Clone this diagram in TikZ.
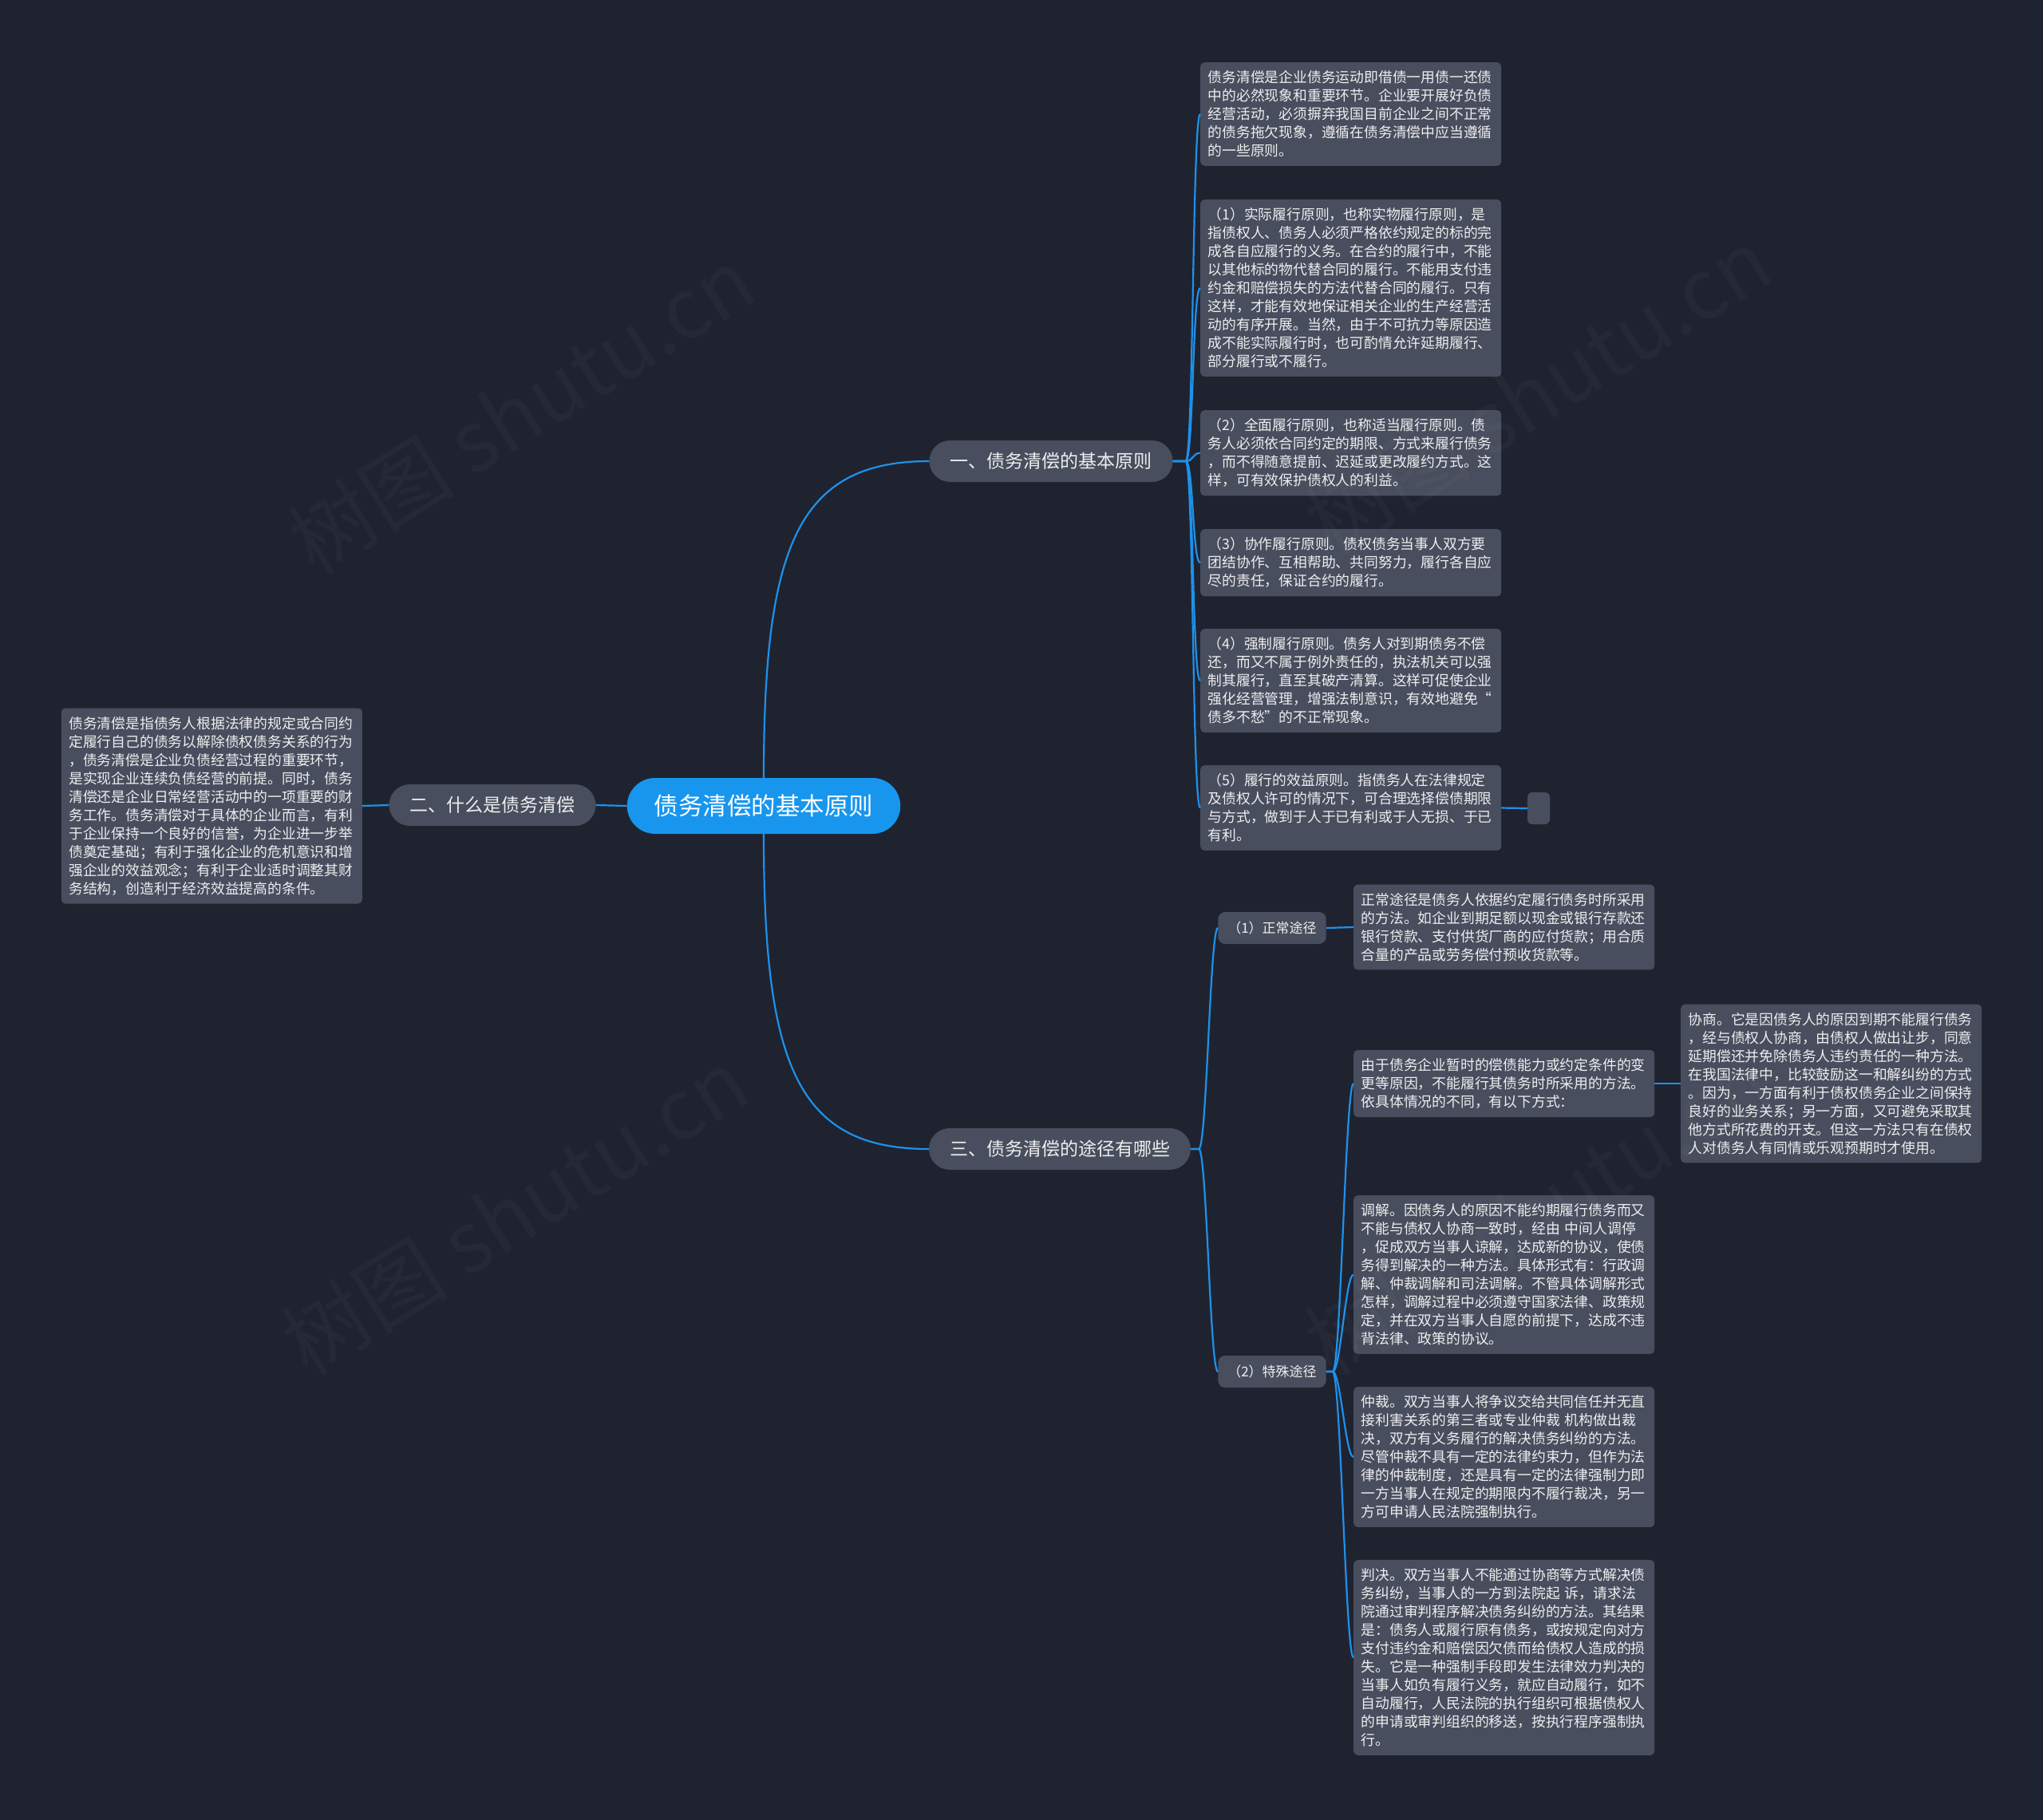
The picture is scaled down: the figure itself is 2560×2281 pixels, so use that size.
\documentclass[tikz,border=0pt]{standalone}
\usepackage{fontspec}
\setmainfont{Noto Sans CJK SC}
\usepackage{tikz}
\definecolor{bgdark}{RGB}{31,35,48}
\definecolor{boxgray}{RGB}{72,78,93}
\definecolor{rootblue}{RGB}{24,150,238}
\definecolor{linkblue}{RGB}{30,145,235}
\definecolor{notewhite}{RGB}{238,238,240}

\begin{document}
\begin{tikzpicture}[x=1pt,y=-1pt,
  link/.style={draw=linkblue,line width=2.2pt},
  note/.style={fill=boxgray,rounded corners=5pt,text=notewhite,align=left,
    text width=358pt,inner xsep=9.5pt,inner ysep=10.5pt,
    font=\fontsize{17.8}{23}\selectfont},
  topic/.style={fill=boxgray,rounded corners=26pt,text=notewhite,
    minimum height=52pt,inner xsep=26pt,font=\fontsize{23}{28}\selectfont},
  subtopic/.style={fill=boxgray,rounded corners=9pt,text=notewhite,
    minimum height=40pt,inner xsep=12pt,font=\fontsize{17}{20}\selectfont},
  watermark/.style={text=white,opacity=0.028,rotate=32,
    font=\fontsize{105}{105}\selectfont}]
\useasboundingbox (0,0) rectangle (2560,2281);
\fill[bgdark] (0,0) rectangle (2560,2281);

% centre et branches
\node[fill=rootblue,text=white,rounded corners=35pt,minimum height=70pt,
  inner xsep=34pt,font=\fontsize{30.5}{34}\selectfont] (root) at (957,1010)
  {债务清偿的基本原则};
\node[topic] (basics) at (1317,578) {一、债务清偿的基本原则};
\node[topic] (whatis) at (617,1009) {二、什么是债务清偿};
\node[topic] (routes) at (1328,1440) {三、债务清偿的途径有哪些};

% 一、基本原则
\node[note,anchor=north west] (intro) at (1504,78)
  {债务清偿是企业债务运动即借债一用债一还债\\
   中的必然现象和重要环节。企业要开展好负债\\
   经营活动，必须摒弃我国目前企业之间不正常\\
   的债务拖欠现象，遵循在债务清偿中应当遵循\\
   的一些原则。};
\node[note,anchor=north west] (rule1) at (1504,250)
  {（1）实际履行原则，也称实物履行原则，是\\
   指债权人、债务人必须严格依约规定的标的完\\
   成各自应履行的义务。在合约的履行中，不能\\
   以其他标的物代替合同的履行。不能用支付违\\
   约金和赔偿损失的方法代替合同的履行。只有\\
   这样，才能有效地保证相关企业的生产经营活\\
   动的有序开展。当然，由于不可抗力等原因造\\
   成不能实际履行时，也可酌情允许延期履行、\\
   部分履行或不履行。};
\node[note,anchor=north west] (rule2) at (1504,514)
  {（2）全面履行原则，也称适当履行原则。债\\
   务人必须依合同约定的期限、方式来履行债务\\
   ，而不得随意提前、迟延或更改履约方式。这\\
   样，可有效保护债权人的利益。};
\node[note,anchor=north west] (rule3) at (1504,663)
  {（3）协作履行原则。债权债务当事人双方要\\
   团结协作、互相帮助、共同努力，履行各自应\\
   尽的责任，保证合约的履行。};
\node[note,anchor=north west] (rule4) at (1504,788)
  {（4）强制履行原则。债务人对到期债务不偿\\
   还，而又不属于例外责任的，执法机关可以强\\
   制其履行，直至其破产清算。这样可促使企业\\
   强化经营管理，增强法制意识，有效地避免“\\
   债多不愁”的不正常现象。};
\node[note,anchor=north west] (rule5) at (1504,959)
  {（5）履行的效益原则。指债务人在法律规定\\
   及债权人许可的情况下，可合理选择偿债期限\\
   与方式，做到于人于已有利或于人无损、于已\\
   有利。};
\node[fill=boxgray,rounded corners=6pt,minimum width=28pt,minimum height=40pt,
  inner sep=0pt] (rule5end) at (1928,1013) {};

% 二、什么是债务清偿
\node[note,anchor=east] (whatisnote) at (454,1010)
  {债务清偿是指债务人根据法律的规定或合同约\\
   定履行自己的债务以解除债权债务关系的行为\\
   ，债务清偿是企业负债经营过程的重要环节，\\
   是实现企业连续负债经营的前提。同时，债务\\
   清偿还是企业日常经营活动中的一项重要的财\\
   务工作。债务清偿对于具体的企业而言，有利\\
   于企业保持一个良好的信誉，为企业进一步举\\
   债奠定基础；有利于强化企业的危机意识和增\\
   强企业的效益观念；有利于企业适时调整其财\\
   务结构，创造利于经济效益提高的条件。};

% 三、途径
\node[subtopic] (normal) at (1594,1163) {（1）正常途径};
\node[subtopic] (special) at (1594,1719) {（2）特殊途径};
\node[note,anchor=west] (normalnote) at (1696,1162)
  {正常途径是债务人依据约定履行债务时所采用\\
   的方法。如企业到期足额以现金或银行存款还\\
   银行贷款、支付供货厂商的应付货款；用合质\\
   合量的产品或劳务偿付预收货款等。};
\node[note,anchor=west] (cause) at (1696,1358)
  {由于债务企业暂时的偿债能力或约定条件的变\\
   更等原因，不能履行其债务时所采用的方法。\\
   依具体情况的不同，有以下方式：};
\node[note,anchor=west] (consult) at (2106,1358)
  {协商。它是因债务人的原因到期不能履行债务\\
   ，经与债权人协商，由债权人做出让步，同意\\
   延期偿还并免除债务人违约责任的一种方法。\\
   在我国法律中，比较鼓励这一和解纠纷的方式\\
   。因为，一方面有利于债权债务企业之间保持\\
   良好的业务关系；另一方面，又可避免采取其\\
   他方式所花费的开支。但这一方法只有在债权\\
   人对债务人有同情或乐观预期时才使用。};
\node[note,anchor=north west] (mediate) at (1696,1498)
  {调解。因债务人的原因不能约期履行债务而又\\
   不能与债权人协商一致时，经由 中间人调停\\
   ，促成双方当事人谅解，达成新的协议，使债\\
   务得到解决的一种方法。具体形式有：行政调\\
   解、仲裁调解和司法调解。不管具体调解形式\\
   怎样，调解过程中必须遵守国家法律、政策规\\
   定，并在双方当事人自愿的前提下，达成不违\\
   背法律、政策的协议。};
\node[note,anchor=north west] (arbitrate) at (1696,1738)
  {仲裁。双方当事人将争议交给共同信任并无直\\
   接利害关系的第三者或专业仲裁 机构做出裁\\
   决，双方有义务履行的解决债务纠纷的方法。\\
   尽管仲裁不具有一定的法律约束力，但作为法\\
   律的仲裁制度，还是具有一定的法律强制力即\\
   一方当事人在规定的期限内不履行裁决，另一\\
   方可申请人民法院强制执行。};
\node[note,anchor=north west] (judge) at (1696,1955)
  {判决。双方当事人不能通过协商等方式解决债\\
   务纠纷，当事人的一方到法院起 诉，请求法\\
   院通过审判程序解决债务纠纷的方法。其结果\\
   是：债务人或履行原有债务，或按规定向对方\\
   支付违约金和赔偿因欠债而给债权人造成的损\\
   失。它是一种强制手段即发生法律效力判决的\\
   当事人如负有履行义务，就应自动履行，如不\\
   自动履行，人民法院的执行组织可根据债权人\\
   的申请或审判组织的移送，按执行程序强制执\\
   行。};

% 连线
\draw[link] (root.north) .. controls +(0,-290) and +(-165,0) .. (basics.west);
\draw[link] (root.south) .. controls +(0,290) and +(-165,0) .. (routes.west);
\draw[link] (root.west) -- (whatis.east);
\draw[link] (whatis.west) -- (whatisnote.east);
\foreach \c in {intro,rule1,rule2,rule3,rule4,rule5}
  \draw[link] (basics.east) -- ++(16,0) .. controls +(10,0) and +(-10,0) .. (\c.west);
\draw[link] (rule5.east) -- (rule5end.west);
\foreach \c in {normal,special}
  \draw[link] (routes.east) -- ++(10,0) .. controls +(10,0) and +(-10,0) .. (\c.west);
\draw[link] (normal.east) -- (normalnote.west);
\foreach \c in {cause,mediate,arbitrate,judge}
  \draw[link] (special.east) -- ++(8,0) .. controls +(10,0) and +(-10,0) .. (\c.west);
\draw[link] (cause.east) -- (consult.west);

% 水印
\node[watermark] (mark1) at (653,514) {树图 shutu.cn};
\node[watermark] (mark2) at (645,1518) {树图 shutu.cn};
\node[watermark] (mark3) at (1927,490) {树图 shutu.cn};
\node[watermark] (mark4) at (1927,1518) {树图 shutu.cn};
\end{tikzpicture}
\end{document}
